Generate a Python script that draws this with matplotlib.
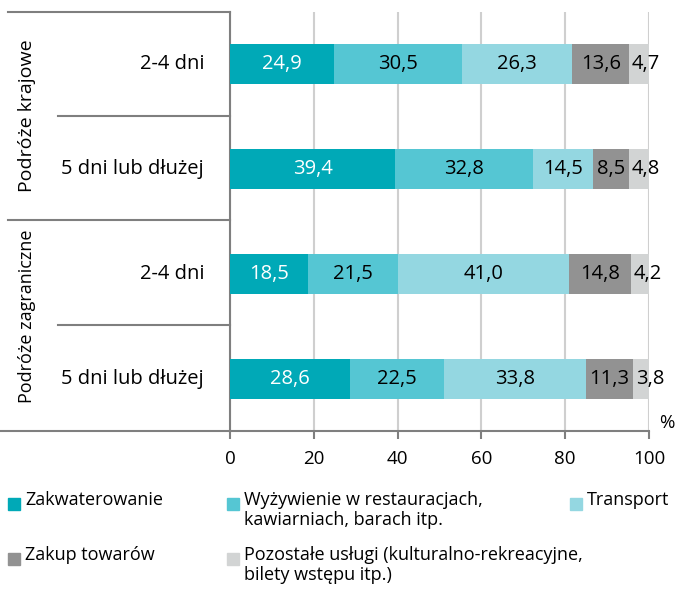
import matplotlib.pyplot as plt
from matplotlib.patches import Rectangle
from matplotlib.lines import Line2D

plt.rcParams['font.family'] = ['Open Sans', 'DejaVu Sans']

rows = ['2-4 dni', '5 dni lub dłużej', '2-4 dni', '5 dni lub dłużej']
groups = ['Podróże krajowe', 'Podróże zagraniczne']
categories = ['Zakwaterowanie', 'Wyżywienie w restauracjach,\nkawiarniach, barach itp.',
              'Transport', 'Zakup towarów',
              'Pozostałe usługi (kulturalno-rekreacyjne,\nbilety wstępu itp.)']
values = [
    [24.9, 39.4, 18.5, 28.6],
    [30.5, 32.8, 21.5, 22.5],
    [26.3, 14.5, 41.0, 33.8],
    [13.6, 8.5, 14.8, 11.3],
    [4.7, 4.8, 4.2, 3.8],
]
colors = ['#00A9B7', '#55C6D3', '#94D7E1', '#929292', '#D2D4D4']
text_colors = ['white', 'black', 'black', 'black', 'black']

W, H = 679, 591
fig = plt.figure(figsize=(W / 100, H / 100), dpi=100)
ax = fig.add_axes([230 / W, 1 - 431 / H, (649 - 230) / W, 419 / H])

y = list(range(len(rows)))
left = [0] * len(rows)
for k, (vals, col, tc) in enumerate(zip(values, colors, text_colors)):
    ax.barh(y, vals, left=left, height=0.38, color=col, zorder=3)
    for yi, (l, v) in enumerate(zip(left, vals)):
        lab = f'{v:.1f}'.replace('.', ',')
        if k == len(values) - 1:
            # small last segment: label starts at segment and runs past it
            ax.text(l + 0.6, yi, lab, ha='left', va='center', fontsize=14.5, color=tc, zorder=4)
        else:
            ax.text(l + v / 2, yi, lab, ha='center', va='center', fontsize=14.5, color=tc, zorder=4)
    left = [l + v for l, v in zip(left, vals)]

ax.set_ylim(3.5, -0.5)
ax.set_xlim(0, 100)
ax.set_xticks([0, 20, 40, 60, 80, 100])
ax.set_yticks([])
ax.xaxis.grid(True, color='#CFCFCF', linewidth=1.5, zorder=0)
for s in ['top', 'right']:
    ax.spines[s].set_visible(False)
ax.spines['left'].set_color('#7F7F7F')
ax.spines['left'].set_linewidth(1.5)
ax.spines['bottom'].set_color('#7F7F7F')
ax.spines['bottom'].set_linewidth(1.5)
ax.tick_params(axis='x', length=6, width=1.5, color='#7F7F7F', labelsize=13.5, pad=8)

# row labels
for yi, r in enumerate(rows):
    ax.text(-0.062, yi, r, transform=ax.get_yaxis_transform(), ha='right', va='center', fontsize=14.5)

# separators outside axes
for ypix, x0 in [(12, 8), (116, 58), (220, 8), (325, 58), (431, 0)]:
    fig.add_artist(Line2D([x0 / W, 230 / W], [1 - ypix / H] * 2, color='#7F7F7F', lw=1.5))

# group labels
fig.text(27 / W, 1 - 116 / H, groups[0], rotation=90, ha='center', va='center', fontsize=14)
fig.text(27 / W, 1 - 316 / H, groups[1], rotation=90, ha='center', va='center', fontsize=13)

fig.text(667 / W, 1 - 423 / H, '%', ha='center', va='center', fontsize=13.5)

# legend
leg_pos = [(8, 504), (227, 504), (570, 504), (8, 559), (227, 559)]
for (lx, ly), lab, col in zip(leg_pos, categories, colors):
    fig.add_artist(Rectangle((lx / W, 1 - (ly + 6) / H), 12 / W, 12 / H, color=col))
    fig.text((lx + 17) / W, 1 - (ly - 13) / H, lab, ha='left', va='top', fontsize=13,
             linespacing=1.12)

fig.savefig('out.png', dpi=100)
